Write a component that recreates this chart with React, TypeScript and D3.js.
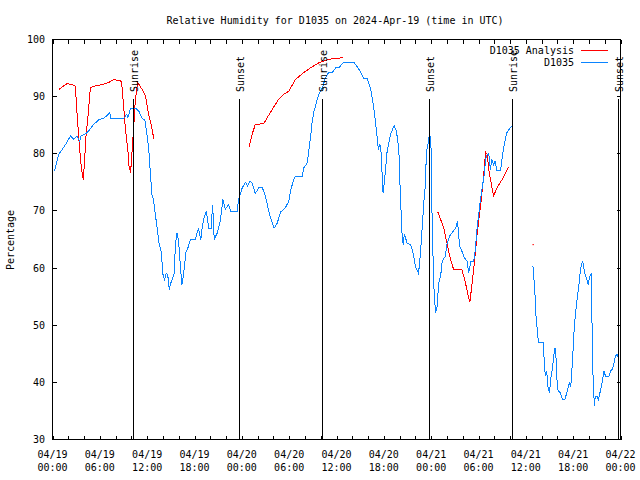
import React from "react";
import * as d3 from "d3";

// Hours since 2024-04-19 00:00 UTC
const obsHours = [0.25,0.8,1.35,1.78,2.28,2.7,3.1,3.46,3.6,4.4,4.8,5.2,5.9,6.5,6.9,7.26,7.4,9.0,9.4,9.55,9.9,10.5,10.95,11.4,11.7,12.0,12.2,12.4,12.6,12.8,13.05,13.3,13.5,13.8,14.0,14.2,14.4,14.6,14.8,15.0,15.4,15.6,15.8,16.0,16.2,16.4,16.6,16.9,17.1,17.5,18.1,18.5,18.8,19.0,19.2,19.5,19.8,20.1,20.3,20.5,20.9,21.3,21.6,21.9,22.3,22.6,23.4,23.6,24.05,24.5,24.7,25.0,25.3,25.7,26.15,26.6,27.0,27.4,27.85,28.1,28.5,28.9,29.5,29.95,30.2,30.6,30.8,31.65,31.85,32.3,32.5,32.7,32.9,33.1,33.5,33.75,34.2,34.6,35.0,35.45,35.9,36.3,36.9,38.2,38.6,39.0,39.5,39.9,40.3,40.7,41.1,41.3,41.5,41.65,41.9,42.1,42.4,42.85,43.3,43.6,43.9,44.1,44.3,44.45,44.6,44.95,45.4,45.7,46.0,46.4,46.65,46.9,47.1,47.25,47.4,47.7,47.8,48.0,48.1,48.25,48.35,48.55,48.75,48.95,49.2,49.4,49.8,50.0,50.35,50.65,51.1,51.35,51.6,51.9,52.2,52.55,52.75,53.05,53.4,53.6,53.8,54.05,54.25,54.5,54.7,54.9,55.1,55.3,55.5,55.7,55.9,56.1,56.35,56.8,57.0,57.3,57.6,58.0,58.4,59.6,60.9,61.0,61.15,61.3,61.45,61.6,62.2,62.4,62.5,62.65,62.8,63.0,63.15,63.35,63.6,63.7,63.85,64.0,64.35,64.65,64.95,65.2,65.5,65.7,65.9,66.1,66.3,66.55,66.75,66.95,67.2,67.5,67.75,67.9,68.1,68.3,68.4,68.45,68.6,68.7,68.8,69.0,69.2,69.4,69.7,69.9,70.1,70.55,70.75,70.95,71.15,71.35,71.6,71.8];
const obsValues = [77,79.9,81,81.9,83.1,82.5,83.1,82.2,83.1,83.7,84.4,85.1,86,86.2,86.7,87.2,86.1,86.1,86.9,86.3,88,88,87.45,86.1,86,83.1,80.75,76.7,72.9,72,69.2,66.75,64.4,62.7,58.9,58,59.05,58.9,56.25,57.4,58.9,64.4,66.2,64.4,60.6,57.1,58.6,62.7,63.25,65,65,67,65,67.3,68.8,69.95,67,67,71.1,65,66.2,68.5,72,70.25,71.1,69.95,69.95,72,74.05,75.05,74.35,75.2,74.9,73.05,74.05,74.05,72.6,69.95,67.9,67,67.9,69.8,70.5,71.7,73.75,75.5,76.1,76.1,77.55,78.4,80.75,82.8,85.4,87.2,89.2,90.4,91.5,93.3,94.2,94.2,95.05,95.05,96,96,95.3,94.4,93.1,93.1,91.55,88.3,83.7,80.75,81.6,80.2,73.2,75.5,80.2,83.4,84.95,83.95,80.75,72.6,66.2,64.1,65.9,64.4,64.1,62.7,60.3,59.05,62.7,67.9,72,74.35,80.2,82.5,84.1,80.75,70,61.2,56.5,52.2,53.3,57.4,58.6,61.2,62.1,64.1,65.6,66.2,67,68.2,63.8,62.95,61.8,61.2,59.2,61.2,61.2,63.25,66.75,69.7,72,74.35,76.1,79,79.9,80,77.25,79,78.1,78.7,77,77,79.3,81.9,83.7,84.5,85,NaN,60.3,58.6,55.7,51.3,49.25,46.9,46.9,42.25,41.1,42,39.3,38.2,40.5,42.25,45.2,46,44,38.75,38.2,37,37,38.2,39.9,39.3,43.4,48.7,52.2,55.1,57.4,60,61.2,58.9,58,57.1,58.6,58.9,49.25,43.4,38.5,35.8,37.6,37.6,37,38.2,40.2,42,41.1,41.1,42,42.25,43.1,44.6,44.9,44];

const anaHours = [0.8,1.2,1.85,2.7,2.9,3.1,3.35,3.55,3.75,3.9,4.05,4.25,4.5,4.8,5.2,5.9,6.5,7.15,7.8,8.4,8.75,8.95,9.25,9.55,9.7,9.9,10.1,10.3,10.5,10.8,11.15,11.5,11.8,12.0,12.2,12.5,12.85,18,24.9,25.3,25.7,26.8,27.2,27.85,28.7,29.3,29.95,30.8,31.65,32.7,33.75,34.8,35.65,36.85,42,48.85,49.2,49.6,50.0,50.45,50.85,51.9,52.35,52.7,52.9,53.2,53.5,53.8,54.05,54.35,54.6,54.9,55.1,55.3,55.6,55.9,56.35,57.0,57.8,59,60.9];
const anaValues = [91.25,91.65,92.3,92,91.8,87.2,82.5,79,76.7,75.5,78.4,83.1,86.6,91.55,91.8,92,92.2,92.5,93,92.8,92.7,89.5,84.25,80.75,77.8,76.7,80.75,84.8,89.5,92.5,91.7,90.95,90.1,88.3,86.9,85.1,82.6,NaN,81.2,83.4,85.1,85.3,86.3,87.75,89.6,90.4,90.95,93,94,95.05,95.9,96.4,96.7,96.8,NaN,69.8,68.5,67,64.4,61.5,59.75,59.75,57.4,55.1,54,57.4,61.2,65.6,68.5,72,75.5,80.3,79.9,77.25,74.9,72.6,74.05,75.5,77.7,NaN,64.1];

const sunHours = [10.2, 23.64, 34.16, 47.72, 58.25, 71.68];
const sunLabels = ["Sunrise", "Sunset", "Sunrise", "Sunset", "Sunrise", "Sunset"];

const yTicks = [30, 40, 50, 60, 70, 80, 90, 100];
const seriesNames = ["D1035 Analysis", "D1035"];
const seriesColors = ["#ff0000", "#0a84ff"];
const titleText = "Relative Humidity for D1035 on 2024-Apr-19 (time in UTC)";
const yTitle = "Percentage";

const T0 = Date.UTC(2024, 3, 19, 0, 0);
const toDate = (h: number) => new Date(T0 + h * 3600000);

export default function App() {
  const font = "'DejaVu Sans Mono', monospace";
  const x = d3.scaleUtc().domain([toDate(0), toDate(72)]).range([52.5, 620.5]);
  const y = d3.scaleLinear().domain([30, 100]).range([439.5, 39.5]);

  const minorTicks = x.ticks(d3.utcHour.every(2) as any);
  const labelTicks = x.ticks(d3.utcHour.every(6) as any);
  const fmtDate = d3.utcFormat("%m/%d");
  const fmtTime = d3.utcFormat("%H:%M");

  const mk = (hs: number[], vs: number[]) =>
    hs.map((h, i) => ({ t: toDate(h), v: vs[i] }));
  const obs = mk(obsHours, obsValues);
  const ana = mk(anaHours, anaValues);

  const line = d3
    .line<{ t: Date; v: number }>()
    .defined((d) => !isNaN(d.v))
    .x((d) => x(d.t))
    .y((d) => y(d.v));

  const isolated = (arr: { t: Date; v: number }[]) =>
    arr.filter(
      (d, i) =>
        !isNaN(d.v) &&
        (i === 0 || isNaN(arr[i - 1].v)) &&
        (i === arr.length - 1 || isNaN(arr[i + 1].v))
    );

  const left = x.range()[0];
  const right = x.range()[1];
  const top = y.range()[1];
  const bottom = y.range()[0];

  return (
    <svg
      width={640}
      height={480}
      style={{ position: "absolute", left: 0, top: 0, background: "#fff" }}
      fontFamily={font}
      fontSize={10}
    >
      <rect x={0} y={0} width={640} height={480} fill="#fff" />
      <text x={335} y={24} textAnchor="middle" fill="#000">
        {titleText}
      </text>

      {/* data */}
      <path d={line(ana) || ""} fill="none" stroke={seriesColors[0]} strokeWidth={1} shapeRendering="crispEdges" />
      {isolated(ana).map((d, i) => (
        <rect key={"ia" + i} x={x(d.t) - 0.5} y={y(d.v) - 0.5} width={1.5} height={1} fill={seriesColors[0]} />
      ))}
      <path d={line(obs) || ""} fill="none" stroke={seriesColors[1]} strokeWidth={1} shapeRendering="crispEdges" />

      {/* sun lines */}
      {sunHours.map((h, i) => {
        const sx = Math.round(x(toDate(h))) + 0.5;
        return (
          <g key={"sun" + i}>
            <line x1={sx} x2={sx} y1={99} y2={bottom} stroke="#000" strokeWidth={1} shapeRendering="crispEdges" />
            <text transform={`translate(${sx + 4},92) rotate(-90)`} textAnchor="start" fill="#000">
              {sunLabels[i]}
            </text>
          </g>
        );
      })}

      {/* frame */}
      <rect x={left} y={top} width={right - left} height={bottom - top} fill="none" stroke="#000" strokeWidth={1} shapeRendering="crispEdges" />

      {/* x ticks */}
      {minorTicks.map((d, i) => {
        const tx = Math.round(x(d)) + 0.5;
        return (
          <g key={"xt" + i} shapeRendering="crispEdges">
            <line x1={tx} x2={tx} y1={bottom} y2={bottom - 4} stroke="#000" />
            <line x1={tx} x2={tx} y1={top} y2={top + 4} stroke="#000" />
          </g>
        );
      })}
      {labelTicks.map((d, i) => (
        <g key={"xl" + i} fill="#000">
          <text x={x(d)} y={458} textAnchor="middle">{fmtDate(d)}</text>
          <text x={x(d)} y={470.5} textAnchor="middle">{fmtTime(d)}</text>
        </g>
      ))}

      {/* y ticks */}
      {yTicks.map((v, i) => {
        const ty = Math.round(y(v) - 0.5) + 0.5;
        return (
          <g key={"yt" + i}>
            <line x1={left} x2={left + 4} y1={ty} y2={ty} stroke="#000" shapeRendering="crispEdges" />
            <line x1={right} x2={right - 4} y1={ty} y2={ty} stroke="#000" shapeRendering="crispEdges" />
            <text x={45} y={ty + 3.6} textAnchor="end" fill="#000">{v}</text>
          </g>
        );
      })}

      <text transform="translate(13.5,240) rotate(-90)" textAnchor="middle" fill="#000">
        {yTitle}
      </text>

      {/* legend */}
      {seriesNames.map((n, i) => (
        <g key={"lg" + i}>
          <text x={574} y={54.3 + i * 12} textAnchor="end" fill="#000">{n}</text>
          <line x1={581} x2={608} y1={50.5 + i * 12} y2={50.5 + i * 12} stroke={seriesColors[i]} shapeRendering="crispEdges" />
        </g>
      ))}
    </svg>
  );
}
